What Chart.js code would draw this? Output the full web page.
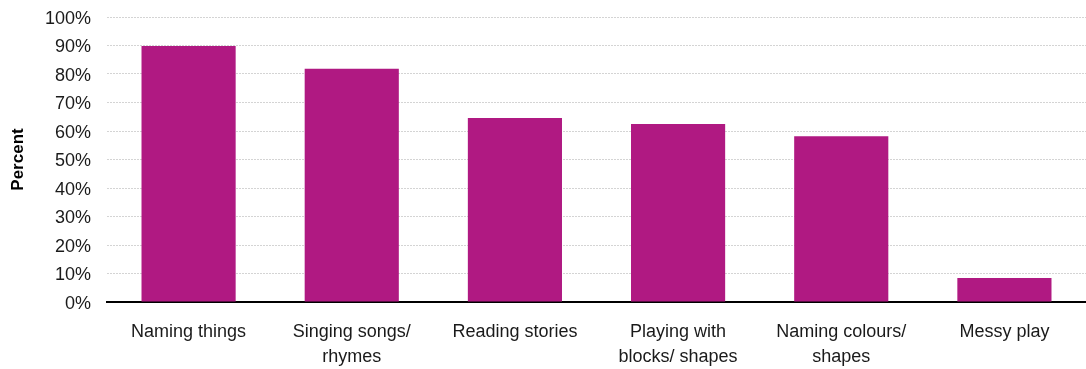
<!DOCTYPE html>
<html><head><meta charset="utf-8">
<script src="https://cdn.jsdelivr.net/npm/chart.js@4/dist/chart.umd.min.js"></script>
<style>html,body{margin:0;padding:0;background:#fff}#w{width:1086px;height:369px}</style>
</head><body><div id="w"><canvas id="c"></canvas></div>
<script>
const categories = [["Naming things"],["Singing songs/","rhymes"],["Reading stories"],["Playing with","blocks/ shapes"],["Naming colours/","shapes"],["Messy play"]];
const values = [89.8, 81.8, 64.6, 62.5, 58.2, 8.4];
const yTicks = [0,10,20,30,40,50,60,70,80,90,100];
const yTitle = "Percent";
new Chart(document.getElementById('c'), {
  type: 'bar',
  data: { labels: categories, datasets: [{ data: values, backgroundColor: '#B01982', categoryPercentage: 0.577, barPercentage: 1 }] },
  options: {
    responsive: true, maintainAspectRatio: false, animation: false,
    layout: { padding: { top: 17, right: 0, left: 0, bottom: 0 } },
    plugins: { legend: { display: false }, tooltip: { enabled: false } },
    scales: {
      x: {
        afterFit: s => { s.height = 67; s.paddingLeft = 0; s.paddingRight = 0; },
        grid: { display: false },
        border: { color: '#000', width: 2 },
        ticks: { color: '#1a1a1a', font: { family: 'Liberation Sans, Arial', size: 18, lineHeight: 1.42 }, maxRotation: 0, padding: 9 }
      },
      y: {
        min: 0, max: 100,
        afterFit: s => { s.width = 107; s.paddingTop = 0; s.paddingBottom = 0; },
        afterBuildTicks: s => { s.ticks = yTicks.map(v => ({ value: v })); },
        grid: { color: '#d4d4d4', drawTicks: false },
        border: { display: false, dash: [2, 1] },
        ticks: { color: '#1a1a1a', font: { family: 'Liberation Sans, Arial', size: 18 }, padding: 16, labelOffset: 2, callback: v => v + '%' },
        title: { display: true, text: yTitle, color: '#000', font: { family: 'Liberation Sans, Arial', size: 17, weight: 'bold' }, padding: { top: 8, bottom: 6 } }
      }
    }
  }
});
</script></body></html>
